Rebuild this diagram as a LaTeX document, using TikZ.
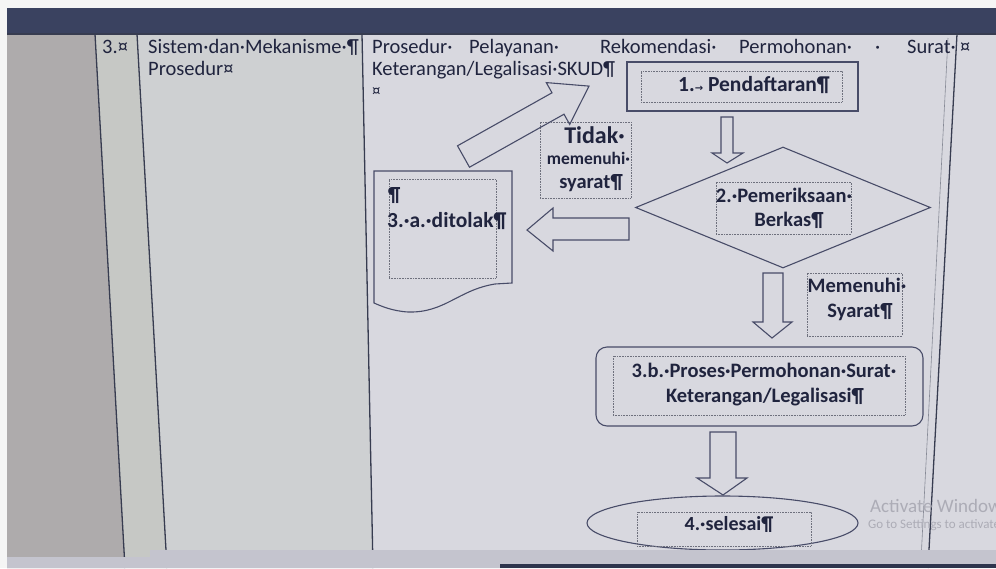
\documentclass[tikz,border=0pt]{standalone}
\usepackage{fontspec}
\setmainfont{Carlito}
\newfontfamily\dejavu{DejaVu Sans}
\usetikzlibrary{shapes.geometric}
\definecolor{ink}{RGB}{32,36,62}
\definecolor{edge}{RGB}{72,76,104}
\definecolor{dotc}{RGB}{110,112,125}
\definecolor{lineC}{RGB}{55,60,80}
\definecolor{pagebg}{RGB}{216,216,223}
\definecolor{midbg}{RGB}{206,208,210}
\definecolor{colbg}{RGB}{198,200,197}
\definecolor{leftbg}{RGB}{174,171,172}
\definecolor{bandbg}{RGB}{58,66,96}
\definecolor{wm}{RGB}{172,172,182}
\definecolor{statbg}{RGB}{196,196,206}
\newcommand\tabarrow{{\dejavu\fontsize{10}{10}\selectfont →}}
\begin{document}
\begin{tikzpicture}[x=1pt,y=-1pt,
  txt/.style={text=ink, inner sep=0, font=\fontsize{20.5}{24}\selectfont},
  btxt/.style={text=ink, inner sep=0, font=\bfseries\fontsize{20.5}{25}\selectfont},
  shp/.style={draw=edge, line width=1.1},
  dotbox/.style={draw=dotc, densely dotted, line width=0.6},
  tline/.style={draw=lineC, line width=1.3}]
\useasboundingbox (0,0) rectangle (996,568);
\clip (0,0) rectangle (996,568);
% backgrounds
\fill[white!92!gray] (0,0) rectangle (996,568);
\fill[pagebg] (7,8) rectangle (996,568);
\fill[midbg] (137,33) -- (362,33) -- (373,568) -- (167,568) -- cycle;
\fill[colbg] (95,33) -- (137,33) -- (167,568) -- (125,568) -- cycle;
\fill[leftbg] (7,33) -- (95,33) -- (125,568) -- (7,568) -- cycle;
\fill[bandbg] (7,8) rectangle (996,34);
% table lines
\draw[tline] (7,34) -- (996,34);
\draw[tline] (95,34) -- (125,568);
\draw[tline] (137,34) -- (167,568);
\draw[tline] (362,34) -- (373,568);
\draw[tline] (957,34) -- (928,568);
\draw[draw=lineC!60, line width=0.6] (948,38) -- (921,560);
% header texts
\node[txt, anchor=base west] (num) at (102,53) {3.¤};
\node[txt, anchor=base west] (sis1) at (148,53) {Sistem·dan·Mekanisme·¶};
\node[txt, anchor=base west] (sis2) at (148,75) {Prosedur¤};
\node[txt, anchor=base west] (h1) at (372,53) {Prosedur·};
\node[txt, anchor=base west] (h2) at (469,53) {Pelayanan·};
\node[txt, anchor=base west] (h3) at (600,53) {Rekomendasi·};
\node[txt, anchor=base west] (h4) at (739,53) {Permohonan·};
\node[txt, anchor=base west] (h5) at (875,53) {·};
\node[txt, anchor=base west] (h6) at (907,53) {Surat·};
\node[txt, anchor=base west] (h7) at (960,53) {¤};
\node[txt, anchor=base west] (h8) at (372,75) {Keterangan/Legalisasi·SKUD¶};
\node[txt, anchor=base west, font=\fontsize{17}{20}\selectfont] (h9) at (372,96) {¤};
% 1. Pendaftaran
\node[shp, minimum width=231, minimum height=49, inner sep=0] (p1) at (742.5,86.5) {};
\node[dotbox, minimum width=201, minimum height=31, inner sep=0] (p1d) at (741.5,86.5) {};
\node[btxt, anchor=base, font=\bfseries\fontsize{21.5}{25}\selectfont] (p1t) at (754,91) {1.\tabarrow\ Pendaftaran¶};
% 2. diamond
\node[shp, diamond, minimum width=295, minimum height=121, inner sep=0] (d2) at (783,207.5) {};
\node[dotbox, minimum width=135, minimum height=52, inner sep=0] (d2d) at (783.5,208) {};
\node[btxt, anchor=base] (d2t1) at (784,202) {2.·Pemeriksaan·};
\node[btxt, anchor=base] (d2t2) at (789,226) {Berkas¶};
% Tidak memenuhi syarat
\node[dotbox, minimum width=91, minimum height=76, inner sep=0] (tdk) at (585.5,160) {};
\node[btxt, anchor=base, font=\bfseries\fontsize{24}{28}\selectfont] (tdk1) at (594.5,143) {Tidak·};
\node[btxt, anchor=base, font=\bfseries\fontsize{17.5}{20}\selectfont] (tdk2) at (588.5,164) {memenuhi·};
\node[btxt, anchor=base] (tdk3) at (591,188) {syarat¶};
% 3.a ditolak (document shape)
\draw[shp] (374,171) -- (512,171) -- (512,283) -- (495,284)
  .. controls (458,290) and (445,313) .. (408,312)
  .. controls (392,311) and (381,306) .. (374,303) -- cycle;
\node[dotbox, minimum width=107, minimum height=99, inner sep=0] (d3a) at (442.5,228.5) {};
\node[btxt, anchor=base west] (d3a1) at (388,201) {¶};
\node[btxt, anchor=base west, font=\bfseries\fontsize{21.5}{25}\selectfont] (d3a2) at (387,227) {3.·a.·ditolak¶};
% Memenuhi Syarat
\node[dotbox, minimum width=95, minimum height=63, inner sep=0] (mem) at (854.5,304.5) {};
\node[btxt, anchor=base] (mem1) at (857,292) {Memenuhi·};
\node[btxt, anchor=base] (mem2) at (860,317) {Syarat¶};
% 3.b proses
\node[shp, rounded corners=11, minimum width=327, minimum height=79, inner sep=0] (p3b) at (759.5,386.5) {};
\node[dotbox, minimum width=292, minimum height=59, inner sep=0] (p3bd) at (759,385.5) {};
\node[btxt, anchor=base] (p3b1) at (764,377) {3.b.·Proses·Permohonan·Surat·};
\node[btxt, anchor=base] (p3b2) at (765,402) {Keterangan/Legalisasi¶};
% 4 selesai
\node[shp, ellipse, minimum width=271, minimum height=54, inner sep=0] (p4) at (722.5,523) {};
\node[dotbox, minimum width=174, minimum height=34, inner sep=0] (p4d) at (724,529) {};
\node[btxt, anchor=base, font=\bfseries\fontsize{20}{24}\selectfont] (p4t) at (729,530) {4.·selesai¶};
% block arrows
% 1 -> 2
\draw[shp] (721,117) -- (733,117) -- (733,153) -- (743,153) -- (727,163) -- (712,153) -- (721,153) -- cycle;
% 2 -> 3b
\draw[shp] (763,273) -- (783,273) -- (783,322) -- (792,322) -- (772,338) -- (753,322) -- (763,322) -- cycle;
% 3b -> 4
\draw[shp] (710,432) -- (736,432) -- (736,478) -- (747,478) -- (723,495) -- (697,478) -- (710,478) -- cycle;
% 2 -> 3a (left)
\draw[shp] (629,218) -- (553,218) -- (553,208) -- (527,230) -- (553,251) -- (553,240) -- (629,240) -- cycle;
% 3a -> SKUD (diagonal)
\draw[shp] (457.5,145.8) -- (552,92.8) -- (546.3,82.6) -- (589,86.1) -- (569.7,124.4) -- (564,114.2) -- (469.5,167.2) -- cycle;
% watermark
\node[anchor=base west, inner sep=0, text=wm, font=\fontsize{19}{21}\selectfont] (wm1) at (870,512) {Activate Windows};
\node[anchor=base west, inner sep=0, text=wm, font=\fontsize{13}{15}\selectfont] (wm2) at (868,528) {Go to Settings to activate Windows.};
% status bar (covers lower part of the page)
\fill[statbg] (7,557) -- (150,557) -- (150,550) -- (996,550) -- (996,568) -- (7,568) -- cycle;
\fill[bandbg!80!black] (500,564) rectangle (996,568);
\end{tikzpicture}
\end{document}
